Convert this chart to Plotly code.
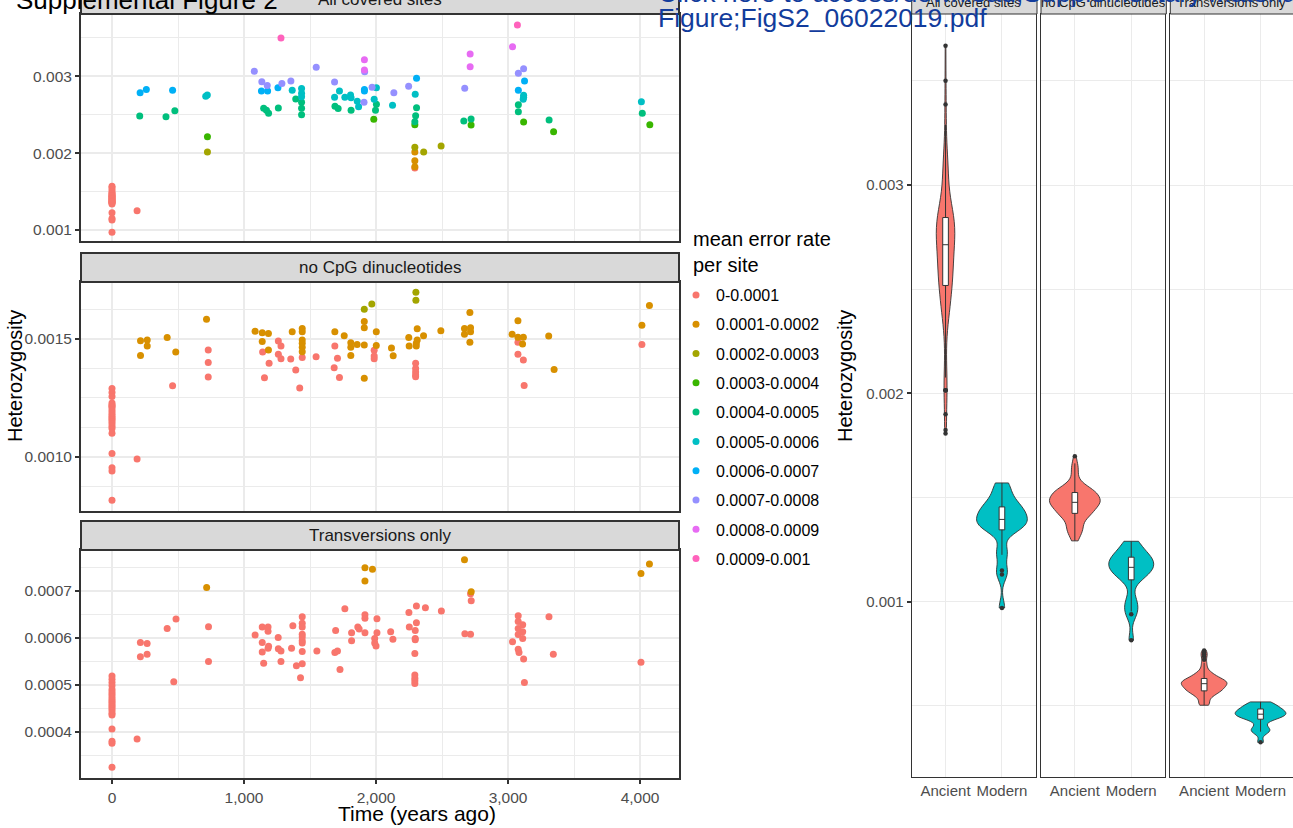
import numpy as np
import plotly.graph_objects as go

# ---------------------------------------------------------------- data
BIN_LABELS = ["0-0.0001", "0.0001-0.0002", "0.0002-0.0003", "0.0003-0.0004",
              "0.0004-0.0005", "0.0005-0.0006", "0.0006-0.0007", "0.0007-0.0008",
              "0.0008-0.0009", "0.0009-0.001"]
BIN_COLORS = ["#F8766D", "#D89000", "#A3A500", "#39B600", "#00BF7D",
              "#00BFC4", "#00B0F6", "#9590FF", "#E76BF3", "#FF62BC"]
PANEL_TITLES = ["All covered sites", "no CpG dinucleotides", "Transversions only"]
PERIODS = ["Ancient", "Modern"]
PERIOD_COLORS = ["#F8766D", "#00BFC4"]
MODERN_MAX_AGE = 200          # samples younger than this count as "Modern"

X_TICKS = [0, 1000, 2000, 3000, 4000]
X_TICK_TEXT = ["0", "1,000", "2,000", "3,000", "4,000"]

# --- All covered sites
all_time = [
    0, 0, 0, 0, 0, 0, 0, 0, 0, 0, 0, 0, 0, 0, 0, 0, 0, 0, 0, 0, 0, 0, 0, 190,
    213, 260, 210, 409, 476, 459, 710, 722, 723, 723,
    1078, 1135, 1132, 1176, 1179, 1149, 1170, 1186, 1260, 1257,
    1287, 1280, 1355, 1365, 1392, 1436, 1436, 1436, 1436, 1436, 1436,
    1547, 1686, 1686, 1723, 1689, 1713, 1764, 1807, 1811, 1811, 1858, 1868,
    1909, 1912, 1912, 1912, 1912, 1914, 1970, 2003, 1986, 2003, 1996, 1983,
    2125, 2135, 2247, 2307, 2297, 2307, 2300, 2294, 2294, 2294, 2294, 2294, 2294, 2294,
    2361, 2493,
    2672, 2713, 2713, 2665, 2720, 2720,
    3034, 3071, 3078, 3118, 3125, 3078, 3118, 3118, 3115, 3078, 3078, 3118,
    3311, 3345,
    4010, 4017, 4074,
]
all_het = [
    0.00157, 0.00155, 0.00152, 0.00149, 0.001475, 0.00146, 0.00145, 0.00144,
    0.00143, 0.00142, 0.00141, 0.0014, 0.00139, 0.00138, 0.00137, 0.001365,
    0.00136, 0.00135, 0.00134, 0.001225, 0.00115, 0.00113, 0.00097, 0.00125,
    0.002787, 0.00283, 0.002484, 0.002475, 0.002553, 0.00282, 0.00274, 0.002757, 0.002215, 0.002015,
    0.003065, 0.00293, 0.00281, 0.00288, 0.00281, 0.002583, 0.00256, 0.002518, 0.002588, 0.002852,
    0.002905, 0.0035, 0.00294, 0.002818, 0.002705, 0.00284, 0.00278, 0.002735, 0.002662, 0.002583, 0.0025,
    0.003117, 0.002926, 0.002727, 0.00281, 0.00261, 0.00258, 0.002727, 0.002757, 0.002722, 0.00256, 0.002675, 0.002605,
    0.002662, 0.00283, 0.00281, 0.003217, 0.003082, 0.00306, 0.002857, 0.002852, 0.0027, 0.002636, 0.00256, 0.00244,
    0.002623, 0.002787, 0.00287, 0.002974, 0.002766, 0.00259, 0.002488, 0.00241, 0.002371, 0.002076, 0.002015, 0.0019, 0.001824, 0.001807,
    0.002015, 0.002093,
    0.002844, 0.00329, 0.003126, 0.002419, 0.002444, 0.002367,
    0.003386, 0.003668, 0.003039, 0.0031, 0.00294, 0.002818, 0.002753, 0.002727, 0.0027, 0.002631, 0.00254, 0.002406,
    0.002432, 0.00228,
    0.00267, 0.002518, 0.002371,
]
all_bin = [
    0, 0, 0, 0, 0, 0, 0, 0, 0, 0, 0, 0, 0, 0, 0, 0, 0, 0, 0, 0, 0, 0, 0, 0,
    6, 6, 4, 4, 4, 6, 5, 5, 3, 2,
    7, 7, 6, 7, 6, 4, 4, 4, 4, 6,
    7, 9, 7, 5, 4, 5, 5, 5, 4, 4, 4,
    7, 7, 5, 5, 4, 4, 5, 5, 5, 4, 5, 5,
    7, 6, 6, 8, 8, 7, 7, 5, 5, 4, 4, 3,
    5, 7, 7, 6, 5, 4, 4, 4, 3, 2, 1, 1, 1, 0,
    2, 2,
    7, 8, 8, 4, 4, 3,
    8, 9, 7, 7, 6, 6, 5, 5, 5, 4, 4, 3,
    4, 3,
    5, 4, 3,
]

# --- no CpG dinucleotides
cpg_time = [
    0, 0, 0, 0, 0, 0, 0, 0, 0, 0, 0, 0, 0, 0, 0, 0, 0, 0, 0, 0, 0, 0, 190,
    216, 216, 267, 267, 418, 483, 459, 716, 729, 729,
    729, 1084, 1138, 1138, 1185, 1185, 1141, 1190, 1155, 1260,
    1280, 1260, 1280, 1354, 1365, 1392, 1422, 1441, 1441, 1441,
    1441, 1441, 1441, 1441, 1546, 1688, 1688, 1708, 1683, 1723,
    1759, 1809, 1809, 1809, 1857, 1911, 1911, 1911, 1911, 1911,
    1968, 2002, 2002, 1986, 1986, 1986, 2117, 2130, 2248, 2251,
    2302, 2302, 2312, 2312, 2305, 2305, 2300, 2300, 2300, 2300,
    2300, 2360, 2491, 2670, 2670, 2711, 2716, 2716, 2711, 3031,
    3075, 3075, 3075, 3075, 3116, 3110, 3116, 3122, 3308, 3349,
    4014, 4014, 4071,
]
cpg_het = [
    0.00129, 0.001273, 0.001256, 0.001228, 0.00122, 0.001215, 0.00121, 0.0012,
    0.00119, 0.00118, 0.001172, 0.001165, 0.001158, 0.00115, 0.00114, 0.00113,
    0.00112, 0.0011, 0.001014, 0.000953, 0.00094, 0.000815, 0.00099,
    0.001493, 0.00143, 0.001496, 0.00147, 0.001506, 0.001445, 0.001302, 0.001584, 0.001453, 0.0014,
    0.001339, 0.001533, 0.001527, 0.001489, 0.001523, 0.001453, 0.001445, 0.001397, 0.001336, 0.001492,
    0.00147, 0.001435, 0.001416, 0.001415, 0.001531, 0.001368, 0.001292, 0.001545, 0.001531, 0.001496,
    0.001482, 0.001465, 0.001446, 0.001421, 0.001425, 0.001531, 0.00147, 0.001418, 0.001378, 0.001337,
    0.001514, 0.001484, 0.001465, 0.00143, 0.001477, 0.001475, 0.001626, 0.001574, 0.001548, 0.001333,
    0.001649, 0.001531, 0.001472, 0.001452, 0.001428, 0.001416, 0.001462, 0.001429, 0.001506, 0.00147,
    0.001698, 0.001664, 0.001544, 0.001496, 0.001482, 0.00147, 0.001397, 0.001375, 0.00136, 0.001347,
    0.00134, 0.001514, 0.001535, 0.00152, 0.001545, 0.001613, 0.001548, 0.001531, 0.001486, 0.00152,
    0.001578, 0.001507, 0.001486, 0.001435, 0.001507, 0.001479, 0.001411, 0.001303, 0.001513, 0.001371,
    0.001558, 0.001477, 0.001642,
]
cpg_bin = [
    0, 0, 0, 0, 0, 0, 0, 0, 0, 0, 0, 0, 0, 0, 0, 0, 0, 0, 0, 0, 0, 0, 0,
    1, 1, 1, 1, 1, 1, 0, 1, 0, 0,
    0, 1, 1, 1, 1, 1, 0, 0, 0, 0,
    0, 0, 0, 0, 1, 0, 0, 1, 1, 1,
    1, 1, 1, 0, 0, 1, 0, 0, 0, 0,
    1, 1, 1, 1, 1, 1, 2, 1, 1, 1,
    2, 1, 1, 0, 0, 0, 1, 1, 1, 1,
    2, 2, 1, 1, 1, 1, 0, 0, 0, 0,
    0, 1, 1, 1, 1, 1, 1, 1, 1, 1,
    1, 1, 0, 0, 1, 1, 0, 0, 1, 1,
    1, 0, 1,
]

# --- Transversions only
tv_time = [
    0, 0, 0, 0, 0, 0, 0, 0, 0, 0, 0, 0, 0, 0, 0, 0, 0, 0, 0, 0, 0, 190,
    215, 266, 215, 266, 418, 485, 468, 717, 731, 731,
    1084, 1138, 1182, 1182, 1138, 1138, 1186, 1182, 1149, 1259,
    1260, 1280, 1280, 1360, 1370, 1397, 1428, 1441, 1441, 1441,
    1441, 1441, 1441, 1441, 1441, 1441, 1552, 1694, 1688, 1708,
    1727, 1764, 1815, 1815, 1862, 1872, 1916, 1916, 1916, 1916,
    1916, 1973, 2007, 2007, 1990, 1990, 2000, 2111, 2128, 2249,
    2252, 2306, 2306, 2297, 2297, 2297, 2294, 2294, 2294, 2294,
    2294, 2374, 2495, 2670, 2721, 2716, 2721, 2673, 2716, 3034,
    3077, 3077, 3077, 3077, 3077, 3083, 3111, 3111, 3111, 3118,
    3124, 3310, 3343, 4007, 4007, 4071,
]
tv_het = [
    0.000519, 0.000512, 0.000505, 0.000498, 0.00049, 0.000485, 0.00048, 0.000475,
    0.00047, 0.000466, 0.000462, 0.000458, 0.000454, 0.00045, 0.000445, 0.00044,
    0.000436, 0.000406, 0.00038, 0.000376, 0.000325, 0.000385,
    0.00059, 0.000588, 0.00056, 0.000565, 0.00062, 0.00064, 0.000507, 0.000707, 0.000624, 0.00055,
    0.000606, 0.000623, 0.000623, 0.000614, 0.00059, 0.00057, 0.000582, 0.000578, 0.000546, 0.000601,
    0.000577, 0.000572, 0.00055, 0.000578, 0.000626, 0.000541, 0.000515, 0.000645, 0.000631, 0.000623,
    0.000608, 0.000602, 0.000594, 0.000589, 0.000571, 0.000545, 0.000572, 0.000616, 0.000569, 0.000572,
    0.000533, 0.000662, 0.000611, 0.000594, 0.000623, 0.000619, 0.000749, 0.000721, 0.000649, 0.000642,
    0.000611, 0.000746, 0.000641, 0.000611, 0.000599, 0.000589, 0.000583, 0.000613, 0.000597, 0.000654,
    0.000623, 0.000668, 0.000632, 0.000616, 0.000599, 0.000596, 0.000567, 0.000521, 0.000514, 0.000509,
    0.000503, 0.000664, 0.000657, 0.000766, 0.000698, 0.000694, 0.000679, 0.000609, 0.000608, 0.000592,
    0.000647, 0.000635, 0.00062, 0.000607, 0.000576, 0.000569, 0.000628, 0.000613, 0.000599, 0.000555,
    0.000505, 0.000645, 0.000565, 0.000548, 0.000737, 0.000757,
]
tv_bin = [
    0, 0, 0, 0, 0, 0, 0, 0, 0, 0, 0, 0, 0, 0, 0, 0, 0, 0, 0, 0, 0, 0,
    0, 0, 0, 0, 0, 0, 0, 1, 0, 0,
    0, 0, 0, 0, 0, 0, 0, 0, 0, 0,
    0, 0, 0, 0, 0, 0, 0, 0, 0, 0,
    0, 0, 0, 0, 0, 0, 0, 0, 0, 0,
    0, 0, 0, 0, 0, 0, 1, 1, 0, 0,
    0, 1, 0, 0, 0, 0, 0, 0, 0, 0,
    0, 0, 0, 0, 0, 0, 0, 0, 0, 0,
    0, 0, 0, 1, 1, 0, 0, 0, 0, 0,
    0, 0, 0, 0, 0, 0, 0, 0, 0, 0,
    0, 0, 0, 0, 1, 1,
]

PANELS = [
    (all_time, all_het, all_bin),
    (cpg_time, cpg_het, cpg_bin),
    (tv_time, tv_het, tv_bin),
]

# ---------------------------------------------------------------- geometry (px)
W, H = 1293, 828


def fx(px):
    return px / W


def fy(py):
    return 1 - py / H


LEFT_X = (81, 679)
LEFT_Y = [(14, 241), (282, 510.7), (550, 778)]
LEFT_YRANGE = [(0.000857, 0.003811), (0.000771, 0.001742), (0.000302, 0.000787)]
LEFT_YTICKS = [
    ([0.001, 0.002, 0.003], ["0.001", "0.002", "0.003"], [0.0015, 0.0025, 0.0035]),
    ([0.0010, 0.0015], ["0.0010", "0.0015"],
     [0.000875, 0.001125, 0.00125, 0.001375, 0.001625]),
    ([0.0004, 0.0005, 0.0006, 0.0007], ["0.0004", "0.0005", "0.0006", "0.0007"],
     [0.00035, 0.00045, 0.00055, 0.00065, 0.00075]),
]
X_RANGE = (-234.8, 4295)
STRIP_H = 29

VIOLIN_X = [(911.7, 1036), (1041, 1165.3), (1170.3, 1293)]
VIOLIN_Y = (14, 776.7)
VIOLIN_YRANGE = (0.00016, 0.003821)
CAT_PX = 56.4   # pixels per category step

FONT = "Liberation Sans, Arial, sans-serif"
GRID = "#EBEBEB"
FRAME = "#333333"
TICKTXT = "#4D4D4D"
LINK_BLUE = "#123C9C"

fig = go.Figure()

# ---------------------------------------------------------------- scatter facets
for p, (t, h, b) in enumerate(PANELS):
    t = np.asarray(t, float)
    h = np.asarray(h, float)
    b = np.asarray(b, int)
    assert len(t) == len(h) == len(b)
    xa = "x" if p == 0 else f"x{p + 1}"
    ya = "y" if p == 0 else f"y{p + 1}"
    for k, (lab, col) in enumerate(zip(BIN_LABELS, BIN_COLORS)):
        m = b == k
        if not m.any():
            continue
        fig.add_trace(go.Scatter(
            x=t[m], y=h[m], mode="markers", xaxis=xa, yaxis=ya,
            marker=dict(color=col, size=7, line=dict(width=0)),
            name=lab, legendgroup=lab, showlegend=(p == 0),
        ))

# ---------------------------------------------------------------- violins


def nrd0(v):
    v = np.asarray(v, float)
    sd = v.std(ddof=1)
    q75, q25 = np.percentile(v, [75, 25])
    lo = min(sd, (q75 - q25) / 1.34)
    if lo <= 0:
        lo = sd
    return 0.9 * lo * len(v) ** -0.2


def max_density(v, bw):
    v = np.asarray(v, float)
    g = np.linspace(v.min(), v.max(), 512)
    d = np.exp(-0.5 * ((g[:, None] - v[None, :]) / bw) ** 2).sum(1)
    return (d / (len(v) * bw * np.sqrt(2 * np.pi))).max()


for p, (t, h, b) in enumerate(PANELS):
    t = np.asarray(t, float)
    h = np.asarray(h, float)
    groups = [h[t >= MODERN_MAX_AGE], h[t < MODERN_MAX_AGE]]
    bws = [nrd0(g) for g in groups]
    dens = [max_density(g, bw) for g, bw in zip(groups, bws)]
    top = max(dens)
    xa = f"x{p + 4}"
    ya = f"y{p + 4}"
    for g, bw, d, per, col in zip(groups, bws, dens, PERIODS, PERIOD_COLORS):
        width = 0.9 * d / top
        fig.add_trace(go.Violin(
            x=[per] * len(g), y=g, xaxis=xa, yaxis=ya,
            width=width, bandwidth=bw, spanmode="hard", side="both",
            fillcolor=col, opacity=1,
            line=dict(color=FRAME, width=0.9),
            box=dict(visible=True, width=min(1.0, 0.1 / width), fillcolor="white",
                     line=dict(color=FRAME, width=1)),
            meanline=dict(visible=False),
            points="outliers", pointpos=0, jitter=0,
            marker=dict(color=FRAME, size=4.5, line=dict(width=0)),
            showlegend=False, name=per,
        ))

# ---------------------------------------------------------------- axes
layout = dict(
    width=W, height=H, margin=dict(l=0, r=0, t=0, b=0),
    paper_bgcolor="white", plot_bgcolor="white",
    font=dict(family=FONT, color="black"),
    violinmode="overlay",
    showlegend=True,
    legend=dict(
        x=fx(676), xanchor="left", y=fy(278), yanchor="top",
        bgcolor="rgba(0,0,0,0)", font=dict(size=16, color="black"),
        tracegroupgap=5.5, itemwidth=30,
    ),
)

for p in range(3):
    xk = "xaxis" if p == 0 else f"xaxis{p + 1}"
    yk = "yaxis" if p == 0 else f"yaxis{p + 1}"
    ya = "y" if p == 0 else f"y{p + 1}"
    xa = "x" if p == 0 else f"x{p + 1}"
    y0, y1 = LEFT_Y[p]
    bottom = p == 2
    layout[xk] = dict(
        domain=[fx(LEFT_X[0]), fx(LEFT_X[1])], anchor=ya, range=list(X_RANGE),
        tickmode="array", tickvals=X_TICKS, ticktext=X_TICK_TEXT,
        showticklabels=bottom, ticks="outside" if bottom else "",
        ticklen=4, tickwidth=1.5, tickcolor=FRAME,
        tickfont=dict(size=15.5, color=TICKTXT),
        showline=True, mirror=True, linecolor=FRAME, linewidth=2,
        showgrid=True, gridcolor=GRID, gridwidth=2, zeroline=False,
        minor=dict(tickvals=[500, 1500, 2500, 3500], showgrid=True,
                   gridcolor=GRID, gridwidth=1, ticks=""),
    )
    tv, tt, mv = LEFT_YTICKS[p]
    layout[yk] = dict(
        domain=[fy(y1), fy(y0)], anchor=xa, range=list(LEFT_YRANGE[p]),
        tickmode="array", tickvals=tv, ticktext=tt,
        ticks="outside", ticklen=4, tickwidth=1.5, tickcolor=FRAME,
        tickfont=dict(size=15.5, color=TICKTXT),
        showline=True, mirror=True, linecolor=FRAME, linewidth=2,
        showgrid=True, gridcolor=GRID, gridwidth=2, zeroline=False,
        minor=dict(tickvals=mv, showgrid=True, gridcolor=GRID, gridwidth=1, ticks=""),
    )

for p in range(3):
    n = p + 4
    x0, x1 = VIOLIN_X[p]
    span = (x1 - x0) / CAT_PX
    layout[f"xaxis{n}"] = dict(
        domain=[fx(x0), min(1.0, fx(x1))], anchor=f"y{n}",
        type="category", categoryorder="array", categoryarray=PERIODS,
        range=[-0.6, -0.6 + span],
        tickfont=dict(size=15, color=TICKTXT), ticks="",
        showline=True, mirror=True, linecolor=FRAME, linewidth=1,
        showgrid=True, gridcolor=GRID, gridwidth=1.3, zeroline=False,
    )
    layout[f"yaxis{n}"] = dict(
        domain=[fy(VIOLIN_Y[1]), fy(VIOLIN_Y[0])], anchor=f"x{n}",
        range=list(VIOLIN_YRANGE),
        tickmode="array", tickvals=[0.001, 0.002, 0.003],
        ticktext=["0.001", "0.002", "0.003"],
        showticklabels=(p == 0), ticks="outside" if p == 0 else "",
        ticklen=4, tickwidth=1.5, tickcolor=FRAME,
        tickfont=dict(size=15, color=TICKTXT),
        showline=True, mirror=True, linecolor=FRAME, linewidth=1,
        showgrid=True, gridcolor=GRID, gridwidth=1.3, zeroline=False,
        minor=dict(tickvals=[0.0005, 0.0015, 0.0025, 0.0035], showgrid=True,
                   gridcolor=GRID, gridwidth=0.9, ticks=""),
    )
    if p > 0:
        layout[f"yaxis{n}"]["matches"] = "y4"

fig.update_layout(**layout)

# ---------------------------------------------------------------- strips & text
shapes = []
annotations = []
for p, title in enumerate(PANEL_TITLES):
    top = LEFT_Y[p][0]
    shapes.append(dict(type="rect", xref="paper", yref="paper",
                       x0=fx(LEFT_X[0]), x1=fx(LEFT_X[1]),
                       y0=fy(top), y1=fy(top - STRIP_H),
                       fillcolor="#D9D9D9", line=dict(color=FRAME, width=2)))
    annotations.append(dict(text=title, xref="paper", yref="paper",
                            x=fx((LEFT_X[0] + LEFT_X[1]) / 2), y=fy(top - STRIP_H / 2),
                            xanchor="center", yanchor="middle", showarrow=False,
                            font=dict(size=17, color="#1A1A1A")))
for p, title in enumerate(PANEL_TITLES):
    x0, x1 = VIOLIN_X[p]
    shapes.append(dict(type="rect", xref="paper", yref="paper",
                       x0=fx(x0), x1=fx(x1 + 1),
                       y0=fy(VIOLIN_Y[0]), y1=fy(VIOLIN_Y[0] - 24),
                       fillcolor="#D9D9D9", line=dict(color=FRAME, width=1)))
    annotations.append(dict(text=title, xref="paper", yref="paper",
                            x=fx((x0 + x1) / 2), y=fy(2),
                            xanchor="center", yanchor="middle", showarrow=False,
                            font=dict(size=13, color="#1A1A1A")))

annotations += [
    dict(text="Time (years ago)", xref="paper", yref="paper", x=fx(417), y=fy(813),
         showarrow=False, xanchor="center", yanchor="middle",
         font=dict(size=21, color="black")),
    dict(text="mean error rate<br>per site", xref="paper", yref="paper",
         x=fx(691), y=fy(226), showarrow=False, xanchor="left", yanchor="top",
         align="left", font=dict(size=20, color="black")),
    dict(text="Heterozygosity", xref="paper", yref="paper", x=fx(15), y=fy(376),
         textangle=-90, showarrow=False, xanchor="center", yanchor="middle",
         font=dict(size=20, color="black")),
    dict(text="Heterozygosity", xref="paper", yref="paper", x=fx(845), y=fy(376),
         textangle=-90, showarrow=False, xanchor="center", yanchor="middle",
         font=dict(size=20, color="black")),
    dict(text="Supplemental Figure 2", xref="paper", yref="paper", x=fx(14), y=fy(0),
         showarrow=False, xanchor="left", yanchor="middle",
         font=dict(size=26, color="black")),
    dict(text="Click here to access/download;Supplementary Material;Supplemental",
         xref="paper", yref="paper", x=fx(656), y=fy(-7),
         showarrow=False, xanchor="left", yanchor="middle",
         font=dict(size=26.5, color=LINK_BLUE)),
    dict(text="Figure;FigS2_06022019.pdf", xref="paper", yref="paper",
         x=fx(656), y=fy(18), showarrow=False, xanchor="left", yanchor="middle",
         font=dict(size=26.5, color=LINK_BLUE)),
]
fig.update_layout(shapes=shapes, annotations=annotations)

fig.write_html("out.html")
